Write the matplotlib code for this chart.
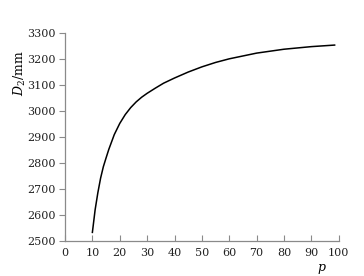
import numpy as np
import matplotlib.pyplot as plt

plt.rcParams['font.family'] = ['DejaVu Serif']
plt.rcParams['mathtext.fontset'] = 'dejavuserif'

# curve
p = [10, 11, 12, 13, 14, 15, 16, 18, 20, 22, 24, 26, 28, 30, 33, 36, 40, 45, 50,
     55, 60, 70, 80, 90, 98.5]
D2 = [2533, 2620, 2686, 2742, 2786, 2820, 2853, 2910, 2953, 2987, 3014, 3036, 3054,
      3069, 3089, 3108, 3128, 3151, 3171, 3188, 3202, 3224, 3239, 3249, 3255]

xticks = np.arange(0, 101, 10)
yticks = np.arange(2500, 3301, 100)

fig = plt.figure(figsize=(3.64, 2.76), dpi=100)
ax = fig.add_axes([0.1786, 0.127, 0.752, 0.752])
ax.plot(p, D2, color="black", lw=1.1)

ax.set_xlim(0, 100)
ax.set_ylim(2500, 3300)
ax.set_xticks(xticks)
ax.set_yticks(yticks)
for s in ["top", "right"]:
    ax.spines[s].set_visible(False)
for s in ["left", "bottom"]:
    ax.spines[s].set_color("#8a8a8a")
    ax.spines[s].set_linewidth(0.9)
ax.tick_params(axis="x", direction="in", length=4, color="#8a8a8a", labelsize=8, pad=5,
               labelcolor="#222222")
ax.tick_params(axis="y", direction="out", length=4, color="#8a8a8a", labelsize=8, pad=3,
               labelcolor="#222222")

ax.set_xlabel("$p$", fontsize=9)
ax.xaxis.set_label_coords(0.94, -0.10)
ax.set_ylabel("$D_2$/mm", fontsize=9)
ax.yaxis.set_label_coords(-0.135, 0.81)

plt.savefig("out.png", dpi=100)
plt.close()
